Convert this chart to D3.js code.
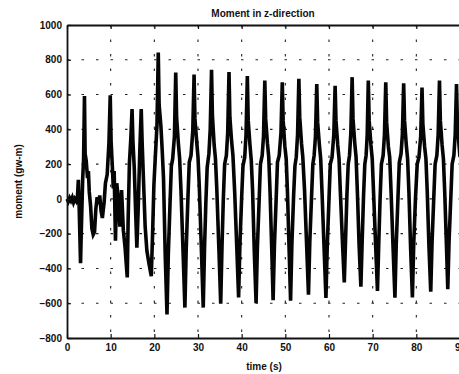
<!DOCTYPE html>
<html>
<head>
<meta charset="utf-8">
<script src="https://cdn.jsdelivr.net/npm/d3@7"></script>
<style>
  body { margin: 0; background: #fff; }
  svg { display: block; }
  text { font-family: "Liberation Sans", Arial, sans-serif; font-weight: bold; fill: #111; }
</style>
</head>
<body>
<div id="chart"></div>
<script>
// tick labels
var xTicks = [0, 10, 20, 30, 40, 50, 60, 70, 80, 90];
var yTicks = [-800, -600, -400, -200, 0, 200, 400, 600, 800, 1000];

// start-up part of the record (0 - 21 s)
var timeStart = [0, 0.3, 0.6, 0.9, 1.2, 1.5, 1.8, 2.1, 2.4, 2.6, 2.8, 3.1, 3.3, 3.6, 3.8, 4.0,
  4.15, 4.4, 4.7, 4.9, 5.1, 5.4, 5.7, 6.0, 6.3, 6.6, 6.9, 7.2, 7.5, 7.8, 8.1, 8.5, 8.8, 9.2,
  9.6, 9.9, 10.1, 10.4, 10.6, 10.8, 11.1, 11.4, 11.8, 12.1, 12.5, 12.9, 13.3, 13.8, 14.0, 14.3,
  14.6, 14.9, 15.1, 15.4, 15.7, 16.0, 16.3, 16.7, 17.0, 17.2, 17.5, 17.9, 18.3, 18.8, 19.3,
  19.6, 19.9, 20.2, 20.6];
var momentStart = [0, -15, 5, -10, 8, -20, 0, -12, 15, 110, -60, -370, -160, 120, 230, 592,
  260, 220, 120, 160, 40, -40, -170, -205, -190, -60, 10, -30, 20, -70, -110, -20, 90, 140,
  320, 596, 330, 180, 60, 160, -240, 90, -20, -160, 50, -180, -280, -452, -120, 210,
  340, 516, 330, 180, -60, -280, -60, 300, 516, 330, 120, -160, -300, -375, -445,
  -200, 80, 230, 420];

// steady rocking part (21 - 90 s)
var timeSteady = [
  20.9, 21.1, 21.5, 21.8, 22.1, 22.5, 22.9, 23.2, 23.6, 23.9, 24.2, 24.6,
  24.9, 25.1, 25.5, 25.8, 26.1, 26.6, 27.0, 27.3, 27.7, 28.0, 28.4, 28.8,
  29.1, 29.3, 29.7, 30.0, 30.3, 30.8, 31.2, 31.5, 31.8, 32.1, 32.5, 32.8,
  33.1, 33.3, 33.7, 34.0, 34.3, 34.8, 35.2, 35.5, 35.8, 36.1, 36.5, 36.8,
  37.1, 37.3, 37.7, 38.0, 38.4, 38.9, 39.3, 39.6, 40.0, 40.3, 40.7, 41.0,
  41.3, 41.5, 41.9, 42.2, 42.5, 42.9, 43.3, 43.6, 44.0, 44.3, 44.7, 45.0,
  45.3, 45.5, 45.9, 46.2, 46.5, 46.9, 47.2, 47.5, 47.9, 48.2, 48.6, 49.0,
  49.3, 49.5, 49.9, 50.2, 50.5, 50.9, 51.2, 51.5, 51.9, 52.2, 52.5, 52.8,
  53.1, 53.3, 53.7, 54.0, 54.4, 54.9, 55.3, 55.6, 56.0, 56.3, 56.6, 56.9,
  57.2, 57.4, 57.8, 58.1, 58.4, 58.9, 59.3, 59.6, 60.0, 60.3, 60.7, 61.1,
  61.4, 61.6, 62.0, 62.3, 62.6, 63.1, 63.5, 63.8, 64.1, 64.4, 64.7, 65.0,
  65.3, 65.5, 65.9, 66.2, 66.5, 66.9, 67.3, 67.6, 67.9, 68.2, 68.5, 68.75,
  69.0, 69.2, 69.6, 69.9, 70.2, 70.7, 71.1, 71.4, 71.7, 72.0, 72.4, 72.7,
  73.0, 73.2, 73.6, 73.9, 74.2, 74.7, 75.1, 75.4, 75.8, 76.1, 76.5, 76.8,
  77.1, 77.3, 77.7, 78.0, 78.3, 78.7, 79.1, 79.4, 79.8, 80.2, 80.6, 81.0,
  81.3, 81.5, 81.9, 82.2, 82.5, 82.9, 83.3, 83.6, 84.0, 84.3, 84.7, 85.0,
  85.3, 85.5, 85.9, 86.2, 86.5, 86.9, 87.2, 87.5, 87.9, 88.2, 88.6, 88.9,
  89.2, 89.4, 89.8, 90.0];
var momentSteady = [
  842, 540, 420, 280, 120, -330, -665, -320, -20, 190, 230, 360,
  727, 470, 320, 230, 50, -320, -625, -290, 10, 210, 250, 390,
  715, 460, 330, 240, 70, -310, -625, -280, -20, 180, 260, 400,
  742, 480, 310, 230, 60, -300, -603, -270, 0, 200, 250, 380,
  730, 470, 330, 250, 40, -290, -567, -260, 10, 190, 240, 370,
  707, 450, 310, 220, 50, -310, -600, -280, -10, 200, 250, 360,
  680, 460, 320, 240, 40, -300, -582, -270, 0, 210, 250, 380,
  670, 450, 300, 230, 30, -320, -586, -260, 20, 190, 240, 370,
  690, 470, 320, 240, 50, -280, -551, -250, 10, 200, 250, 360,
  660, 440, 310, 230, 40, -300, -570, -270, 0, 200, 240, 370,
  650, 450, 310, 230, 40, -260, -480, -230, 20, 200, 250, 380,
  700, 460, 320, 240, 40, -270, -505, -240, 10, 200, 250, 370,
  680, 450, 310, 230, 40, -280, -530, -250, 0, 200, 250, 370,
  670, 440, 300, 240, 50, -300, -568, -260, 10, 210, 260, 370,
  665, 450, 310, 230, 40, -290, -567, -260, 0, 200, 240, 360,
  640, 430, 300, 230, 40, -280, -534, -250, 10, 200, 250, 370,
  680, 450, 310, 230, 40, -270, -520, -240, 10, 200, 250, 370,
  660, 440, 300, 240];

var width = 459, height = 374;
var margin = { top: 25, left: 67 };
var plotW = 393, plotH = 313;   // right edge of the axes falls at the window edge

var data = timeStart.concat(timeSteady).map(function (t, i) {
  return [t, momentStart.concat(momentSteady)[i]];
});

var svg = d3.select('#chart').append('svg')
  .attr('width', width)
  .attr('height', height);

var x = d3.scaleLinear().domain([0, 90]).range([margin.left, margin.left + plotW]);
var y = d3.scaleLinear().domain([-800, 1000]).range([margin.top + plotH, margin.top]);

// dotted grid
var grid = svg.append('g').attr('class', 'grid')
  .attr('stroke', '#222').attr('stroke-width', 1.1).attr('stroke-dasharray', '2.5,12');
grid.selectAll('.gx').data(xTicks.slice(1)).enter().append('line')
  .attr('x1', function (d) { return x(d); }).attr('x2', function (d) { return x(d); })
  .attr('y1', y(1000)).attr('y2', y(-800));
grid.selectAll('.gy').data(yTicks.slice(1, -1)).enter().append('line')
  .attr('y1', function (d) { return y(d); }).attr('y2', function (d) { return y(d); })
  .attr('x1', x(0)).attr('x2', x(90));

// the signal, drawn heavy like the scanned trace
var line = d3.line()
  .x(function (d) { return x(d[0]); })
  .y(function (d) { return y(d[1]); });

svg.append('path')
  .datum(data)
  .attr('fill', 'none')
  .attr('stroke', '#050505')
  .attr('stroke-width', 3.6)
  .attr('stroke-linejoin', 'miter')
  .attr('d', line);

// axes: ticks point inward, matlab style
var fmt = d3.format('d');
var xAxis = svg.append('g')
  .attr('transform', 'translate(0,' + (margin.top + plotH) + ')')
  .call(d3.axisBottom(x).tickValues(xTicks).tickFormat(fmt).tickSizeInner(-4).tickSizeOuter(0).tickPadding(6));
var xTop = svg.append('g')
  .attr('transform', 'translate(0,' + margin.top + ')')
  .call(d3.axisTop(x).tickValues(xTicks).tickSizeInner(-4).tickSizeOuter(0).tickFormat(''));
var yAxis = svg.append('g')
  .attr('transform', 'translate(' + margin.left + ',0)')
  .call(d3.axisLeft(y).tickValues(yTicks).tickFormat(fmt).tickSizeInner(-4).tickSizeOuter(0).tickPadding(5));

[xAxis, xTop, yAxis].forEach(function (g) {
  g.select('.domain').attr('stroke', '#111').attr('stroke-width', 1.8);
  g.selectAll('.tick line').attr('stroke', '#111').attr('stroke-width', 1.2);
  g.selectAll('text').attr('font-size', 10).attr('fill', '#111')
    .attr('font-family', '"Liberation Sans", Arial, sans-serif').attr('font-weight', 'bold');
});

// titles
svg.append('text')
  .attr('x', 263).attr('y', 17)
  .attr('text-anchor', 'middle').attr('font-size', 10)
  .text('Moment in z-direction');

svg.append('text')
  .attr('x', 264).attr('y', 370)
  .attr('text-anchor', 'middle').attr('font-size', 10)
  .text('time (s)');

svg.append('text')
  .attr('transform', 'translate(22,' + (margin.top + plotH / 2) + ') rotate(-90)')
  .attr('text-anchor', 'middle').attr('font-size', 10)
  .text('moment (gw-m)');
</script>
</body>
</html>
